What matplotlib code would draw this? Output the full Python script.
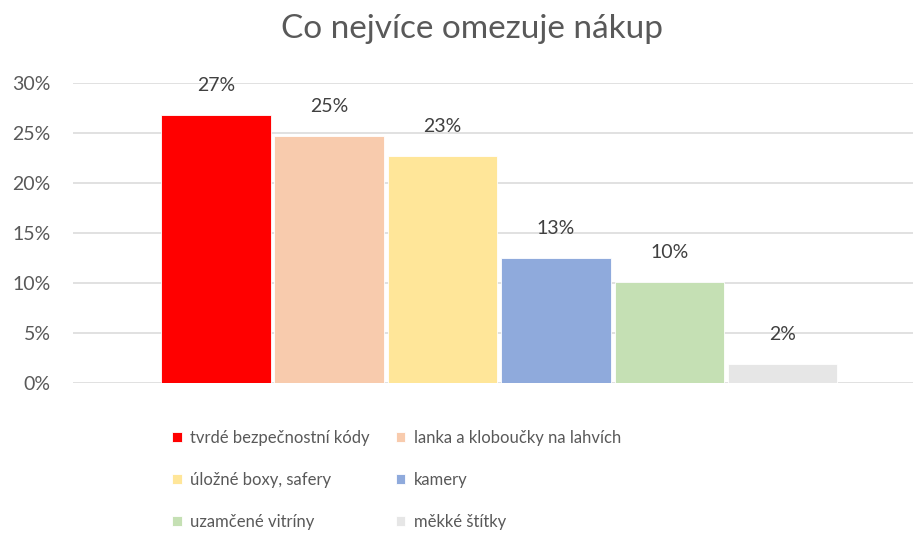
import matplotlib
matplotlib.use("Agg")
import matplotlib.pyplot as plt
from matplotlib.ticker import PercentFormatter

title = "Co nejvíce omezuje nákup"
categories = [
    "tvrdé bezpečnostní kódy",
    "lanka a kloboučky na lahvích",
    "úložné boxy, safery",
    "kamery",
    "uzamčené vitríny",
    "měkké štítky",
]
values = [0.268, 0.247, 0.227, 0.125, 0.101, 0.019]
value_labels = ["27%", "25%", "23%", "13%", "10%", "2%"]
colors = ["#FF0000", "#F8CBAD", "#FFE699", "#8FAADC", "#C5E0B4", "#E6E6E6"]
yticks = [0, 0.05, 0.10, 0.15, 0.20, 0.25, 0.30]

plt.rcParams["font.family"] = ["Lato", "DejaVu Sans"]
text_col = "#595959"

W, H = 913, 535
fig = plt.figure(figsize=(W / 100, H / 100), dpi=100)
ax = fig.add_axes([73 / W, (H - 383) / H, 1 - 73 / W, 300 / H])

bars = []
for i, (cat, v, c) in enumerate(zip(categories, values, colors)):
    b = ax.bar(i, v, width=0.965, color=c, edgecolor="white", linewidth=0.6,
               label=cat, zorder=3)
    bars.append(b)
    ax.annotate(value_labels[i], (i, v), xytext=(0, 21), textcoords="offset points",
                ha="center", va="center", fontsize=14, color="#404040", zorder=4)

ax.set_xlim(-1.26, 6.15)
ax.set_ylim(0, 0.30)
ax.set_yticks(yticks)
ax.yaxis.set_major_formatter(PercentFormatter(1.0, decimals=0))
ax.tick_params(axis="y", length=0, pad=16, labelsize=14, labelcolor=text_col)
ax.set_xticks([])
ax.grid(axis="y", color="#D9D9D9", linewidth=1.1, zorder=0)
ax.set_axisbelow(True)
for s in ax.spines.values():
    s.set_visible(False)

fig.text(472 / W, 1 - 29 / H, title, ha="center", va="center",
         fontsize=24, color=text_col)

order = [0, 2, 4, 1, 3, 5]
handles = [bars[i] for i in order]
labels = [categories[i] for i in order]
fig.legend(handles, labels, ncol=2, loc="upper left",
           bbox_to_anchor=(164 / W, 1 - 422 / H), frameon=False,
           fontsize=12, labelcolor=text_col, handlelength=0.55, handleheight=0.55,
           handletextpad=0.5, labelspacing=1.55, columnspacing=1.6, borderpad=0)

fig.savefig("out.png", dpi=100, facecolor="white")
